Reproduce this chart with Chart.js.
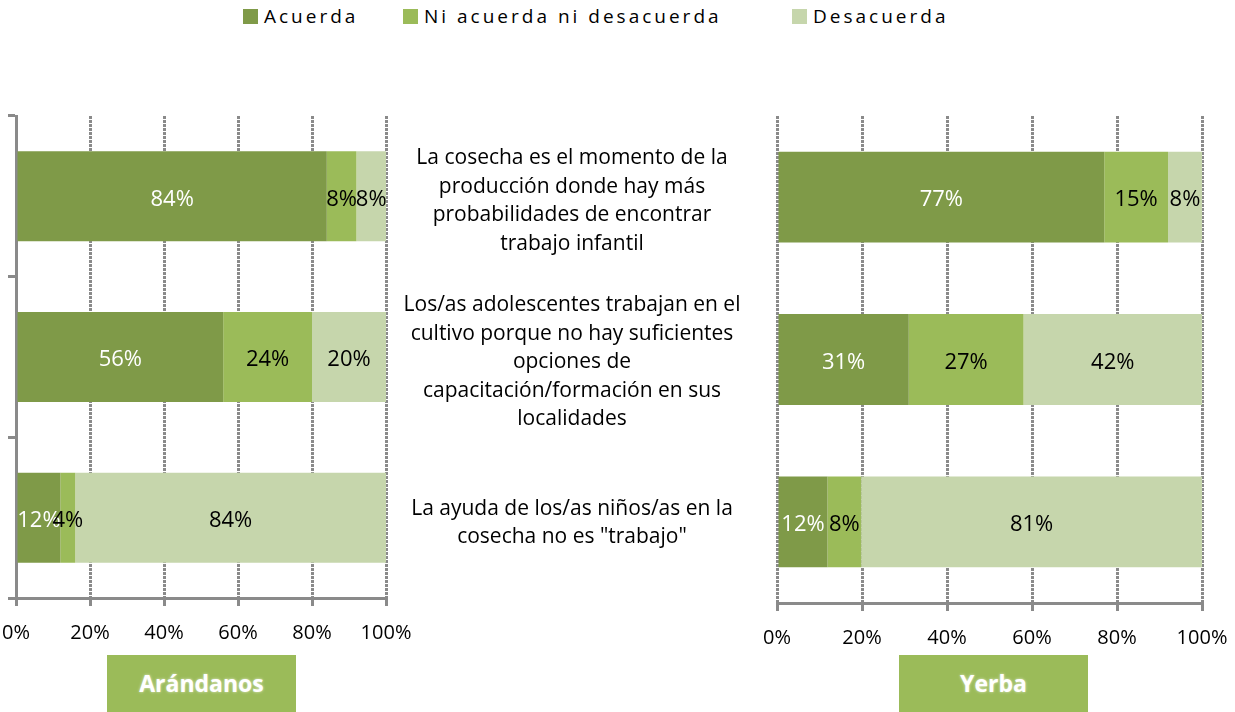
<!DOCTYPE html>
<html>
<head>
<meta charset="utf-8">
<script src="https://cdn.jsdelivr.net/npm/chart.js@4.4.0/dist/chart.umd.min.js"></script>
<style>
    body {
        margin: 0;
        width: 1235px;
        height: 712px;
        background: #fff;
        position: relative;
        overflow: hidden;
        font-family: "Open Sans", sans-serif;
    }
    .wrap { position: absolute; top: 100px; }
    .leg {
        position: absolute;
        top: 3px;
        font-size: 19px;
        letter-spacing: 3px;
        color: #000;
        white-space: nowrap;
    }
    .leg span.sw {
        display: inline-block;
        width: 15px;
        height: 15px;
        margin-right: 6px;
        vertical-align: -1px;
    }
    .question {
        position: absolute;
        left: 390px;
        width: 364px;
        text-align: center;
        font-size: 21px;
        line-height: 28.5px;
        color: #000;
        transform: translateY(-50%);
    }
    .tag {
        position: absolute;
        top: 655px;
        width: 189px;
        height: 57px;
        line-height: 57px;
        background: #9bbb59;
        color: #fff;
        font-weight: bold;
        font-size: 23px;
        text-align: center;
        text-shadow: 0 0 3px rgba(255, 255, 255, 0.7);
    }
</style>
</head>
<body>
<div class="wrap" style="left:0px"><canvas id="chartArandanos" width="420" height="560"></canvas></div>
<div class="wrap" style="left:760px"><canvas id="chartYerba" width="475" height="560"></canvas></div>
<div class="tag" style="left:107px">Arándanos</div>
<div class="tag" style="left:899px">Yerba</div>

<script>
// Preguntas (categorías), una línea por elemento
const preguntas = [
    ["La cosecha es el momento  de la", "producción donde hay más", "probabilidades de encontrar", "trabajo infantil"],
    ["Los/as adolescentes trabajan  en el", "cultivo porque  no hay suficientes", "opciones de", "capacitación/formación en sus", "localidades"],
    ["La ayuda de los/as  niños/as en la", "cosecha no es \"trabajo\""]
]

const series = ["Acuerda", "Ni acuerda ni desacuerda", "Desacuerda"]
const colores = ["#7f9a48", "#9bbb59", "#c6d6ac"]
const colorTexto = ["#ffffff", "#000000", "#000000"]

// Arándanos (%)
const arandanosAcuerda = [84, 56, 12]
const arandanosNi = [8, 24, 4]
const arandanosDesacuerda = [8, 20, 84]

// Yerba (%)
const yerbaAcuerda = [77, 31, 12]
const yerbaNi = [15, 27, 8]
const yerbaDesacuerda = [8, 42, 81]

const ticksX = [0, 20, 40, 60, 80, 100]

// Leyenda
const posLeyenda = [243, 403, 792]
series.forEach((s, i) => {
    const item = document.createElement("div")
    item.className = "leg"
    item.style.left = posLeyenda[i] + "px"
    item.innerHTML = `<span class="sw" style="background:${colores[i]}"></span>${s}`
    document.body.appendChild(item)
})

// etiquetas dentro de cada segmento
const etiquetas = {
    id: "etiquetas",
    afterDatasetsDraw(chart) {
        const ctx = chart.ctx
        ctx.save()
        ctx.font = '22px "Open Sans"'
        ctx.textAlign = "center"
        ctx.textBaseline = "middle"
        chart.data.datasets.forEach((ds, di) => {
            chart.getDatasetMeta(di).data.forEach((bar, i) => {
                const p = bar.getProps(["x", "y", "base"], true)
                ctx.fillStyle = colorTexto[di]
                ctx.fillText(ds.raw[i] + "%", (p.x + p.base) / 2, p.y + 3)
            })
        })
        ctx.restore()
    }
}

function crearGrafico(id, valores, opts) {
    // 100% apilado, como en Excel
    const totales = valores[0].map((_, i) => valores.reduce((s, v) => s + v[i], 0))
    return new Chart(document.getElementById(id), {
        type: "bar",
        data: {
            labels: preguntas.map((p, i) => "p" + (i + 1)),
            datasets: valores.map((v, di) => ({
                label: series[di],
                data: v.map((x, i) => x / totales[i] * 100),
                raw: v,
                backgroundColor: colores[di],
                borderWidth: 0,
                barPercentage: 0.56,
                categoryPercentage: 1
            }))
        },
        options: {
            indexAxis: "y",
            responsive: false,
            animation: false,
            layout: { padding: { top: 16, right: opts.right, bottom: 0, left: 0 } },
            plugins: { legend: { display: false }, tooltip: { enabled: false } },
            scales: {
                x: {
                    stacked: true,
                    min: 0,
                    max: 100,
                    afterBuildTicks: s => { s.ticks = ticksX.map(v => ({ value: v })) },
                    afterFit: s => {
                        s.height = opts.xHeight
                        s.paddingLeft = 0
                        s.paddingRight = 0
                    },
                    grid: {
                        color: "#8a8a8a",
                        lineWidth: 3,
                        tickLength: 8,
                        tickBorderDash: []
                    },
                    border: { display: true, color: "#8a8a8a", width: 3, dash: [3, 1] },
                    ticks: {
                        padding: 15,
                        color: "#000",
                        font: { family: "Open Sans", size: 20 },
                        callback: v => v + "%"
                    }
                },
                y: {
                    stacked: true,
                    afterFit: s => { s.width = opts.yWidth },
                    ticks: { display: false },
                    grid: {
                        display: opts.yAxis,
                        drawOnChartArea: false,
                        tickLength: 8,
                        color: "#8a8a8a",
                        lineWidth: 3,
                        offset: true
                    },
                    border: { display: opts.yAxis, color: "#8a8a8a", width: 3 }
                }
            }
        },
        plugins: [etiquetas]
    })
}

const chartA = crearGrafico("chartArandanos",
    [arandanosAcuerda, arandanosNi, arandanosDesacuerda],
    { right: 34, xHeight: 62, yWidth: 16, yAxis: true })

crearGrafico("chartYerba",
    [yerbaAcuerda, yerbaNi, yerbaDesacuerda],
    { right: 33, xHeight: 57, yWidth: 17, yAxis: false })

// textos de las preguntas centrados en cada categoría
preguntas.forEach((lineas, i) => {
    const d = document.createElement("div")
    d.className = "question"
    d.style.top = (100 + chartA.scales.y.getPixelForValue(i) + 3) + "px"
    d.innerHTML = lineas.join("<br>")
    document.body.appendChild(d)
})
</script>
</body>
</html>
